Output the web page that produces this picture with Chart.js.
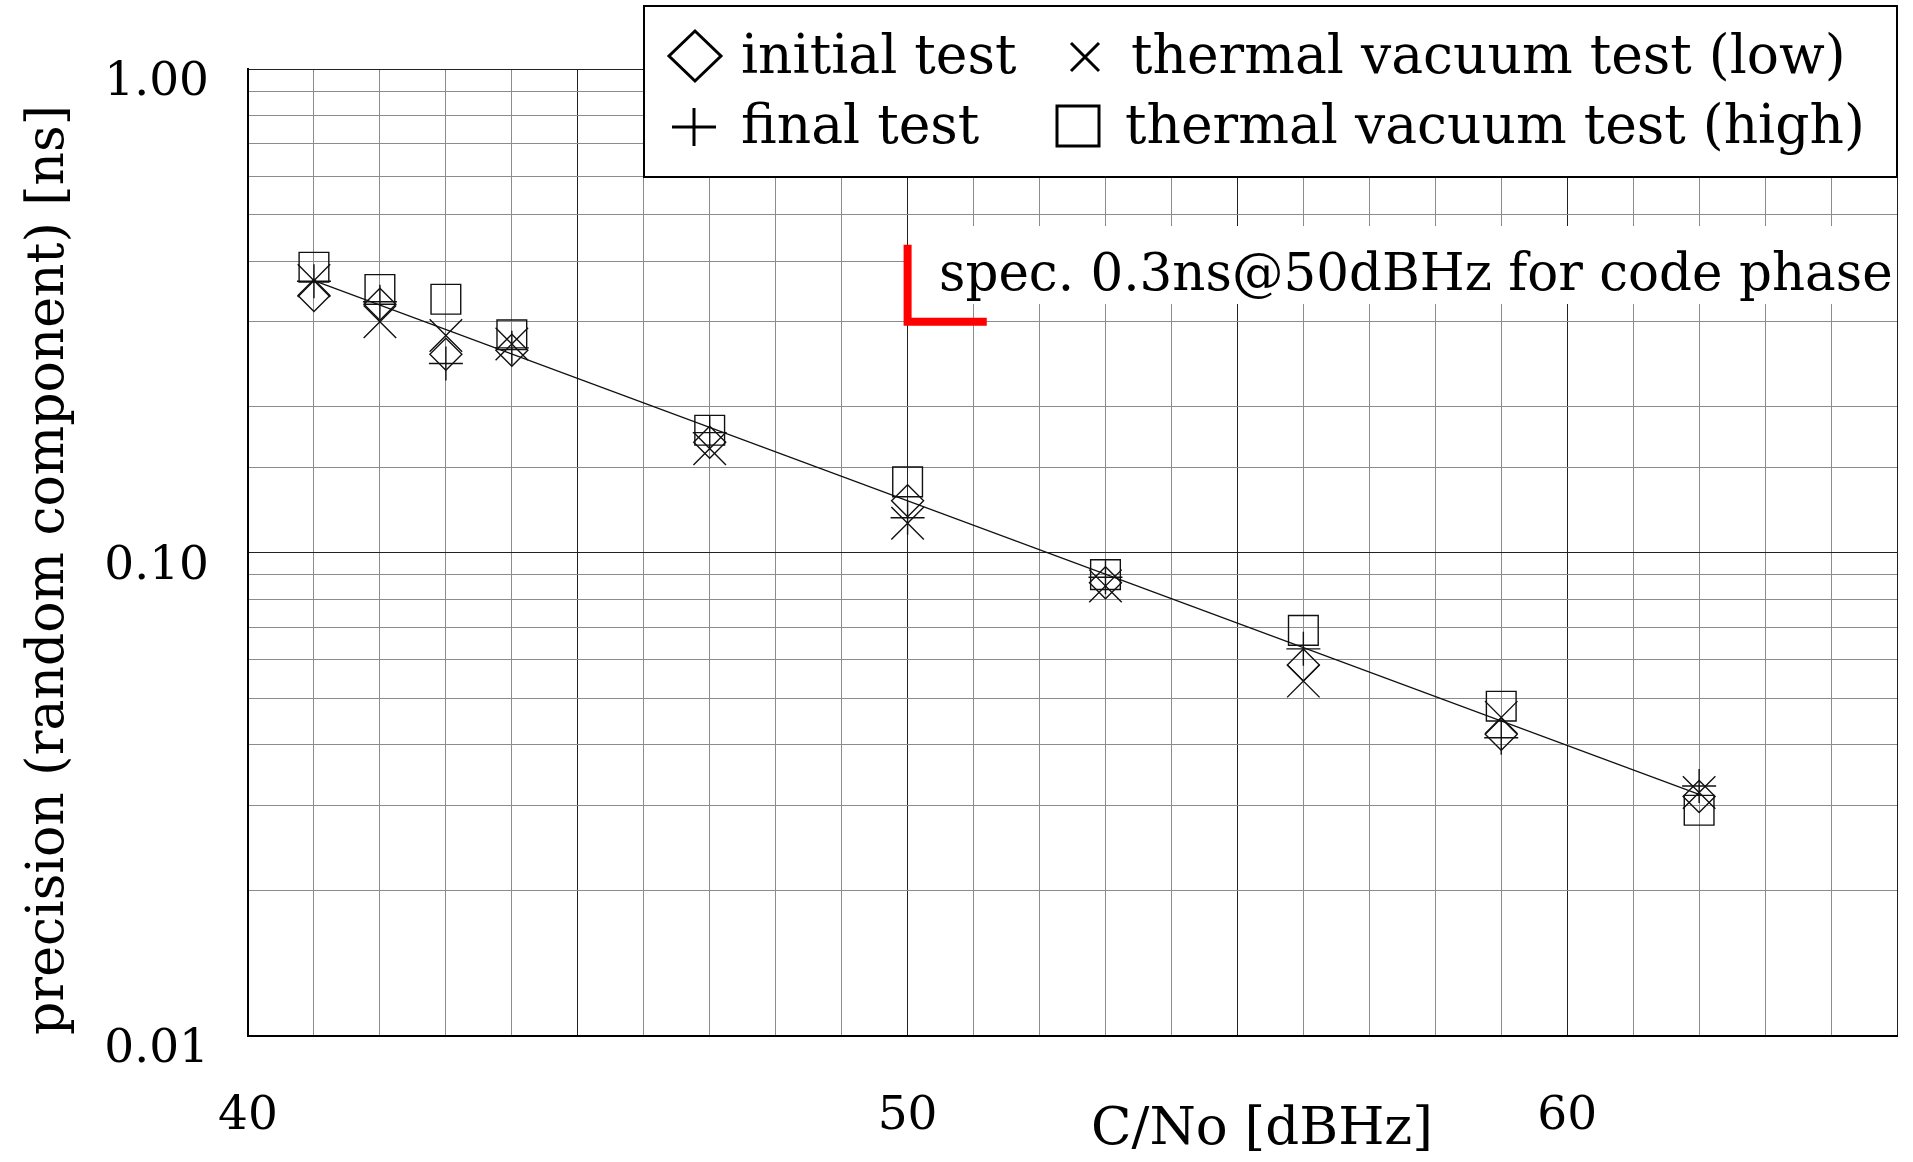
<!DOCTYPE html>
<html>
<head>
<meta charset="utf-8">
<script src="https://cdn.jsdelivr.net/npm/chart.js@4.4.1/dist/chart.umd.min.js"></script>
<style>
  html, body { margin: 0; padding: 0; background: #fff; overflow: hidden; }
  #wrap { width: 1913px; height: 1162px; }
  canvas { display: block; }
</style>
</head>
<body>
<div id="wrap"><canvas id="chart" width="1913" height="1162"></canvas></div>
<script>
// C/No [dBHz] and measured precision [ns]
const cnoValues = [41, 42, 43, 44, 47, 50, 53, 56, 59, 62];
const initialTest = [0.340, 0.326, 0.257, 0.262, 0.169, 0.128, 0.0866, 0.0585, 0.0421, 0.0313];
const finalTest = [0.364, 0.330, 0.246, 0.265, 0.177, 0.118, 0.0889, 0.0632, 0.0414, 0.0329];
const vacuumLow = [0.365, 0.300, 0.281, 0.270, 0.164, 0.115, 0.0853, 0.0542, 0.0456, 0.0319];
const vacuumHigh = [0.389, 0.350, 0.334, 0.282, 0.179, 0.140, 0.0900, 0.0690, 0.0481, 0.0293];
const seriesNames = ['initial test', 'thermal vacuum test (low)', 'final test', 'thermal vacuum test (high)'];

// fitted line and spec marker
const fitX = [41, 62];
const fitY = [0.365, 0.0316];
const specX = [50, 50, 51.2];
const specY = [0.433, 0.3, 0.3];
const specLabel = 'spec. 0.3ns@50dBHz for code phase';

const xTickLabels = [40, 50, 60];
const yTickLabels = [0.01, 0.1, 1];
const xTitle = 'C/No [dBHz]';
const yTitle = 'precision (random component) [ns]';

const FONT = '"DejaVu Serif", serif';
const INK = '#111';

function pts(xs, ys) {
  return xs.map((x, i) => ({ x: x, y: ys[i] }));
}

function markerSet(label, ys, style, r) {
  return {
    label: label,
    data: pts(cnoValues, ys),
    pointStyle: style,
    pointRadius: r,
    pointHoverRadius: r,
    pointBorderColor: INK,
    pointBackgroundColor: 'rgba(0,0,0,0)',
    pointBorderWidth: 1.4,
    showLine: false
  };
}

function drawMarker(c, style, x, y, rx, ry, lw) {
  c.save();
  c.strokeStyle = '#000';
  c.lineWidth = lw;
  c.beginPath();
  if (style === 'rectRot') {
    c.moveTo(x, y - ry); c.lineTo(x + rx, y); c.lineTo(x, y + ry); c.lineTo(x - rx, y); c.closePath();
  } else if (style === 'crossRot') {
    c.moveTo(x - rx, y - ry); c.lineTo(x + rx, y + ry);
    c.moveTo(x + rx, y - ry); c.lineTo(x - rx, y + ry);
  } else if (style === 'cross') {
    c.moveTo(x - rx, y); c.lineTo(x + rx, y);
    c.moveTo(x, y - ry); c.lineTo(x, y + ry);
  } else {
    c.rect(x - rx, y - ry, 2 * rx, 2 * ry);
  }
  c.stroke();
  c.restore();
}

const annotations = {
  id: 'annotations',
  beforeDatasetsDraw(chart) {
    const c = chart.ctx;
    c.save();
    c.fillStyle = '#fff';
    c.fillRect(910, 226, chart.chartArea.right - 910, 78);
    c.fillStyle = '#000';
    c.font = '51.5px ' + FONT;
    c.textAlign = 'left';
    c.textBaseline = 'alphabetic';
    c.fillText(specLabel, 939, 290);
    c.restore();
  },
  afterDraw(chart) {
    const c = chart.ctx;
    c.save();
    // legend box
    c.fillStyle = '#fff';
    c.fillRect(644, 6, 1253, 171);
    c.strokeStyle = '#000';
    c.lineWidth = 2;
    c.strokeRect(644, 6, 1253, 171);
    drawMarker(c, 'rectRot', 695, 56, 26, 25, 3);
    drawMarker(c, 'crossRot', 1085, 57, 14, 14, 3);
    drawMarker(c, 'cross', 694, 127, 22, 19, 3);
    drawMarker(c, 'rect', 1078, 126, 21, 20, 3);
    c.fillStyle = '#000';
    c.font = '53.5px ' + FONT;
    c.textAlign = 'left';
    c.textBaseline = 'middle';
    c.fillText(seriesNames[0], 741, 59);
    c.fillText(seriesNames[1], 1131, 59);
    c.fillText(seriesNames[2], 741, 129);
    c.fillText(seriesNames[3], 1125, 129);
    // axis titles
    c.font = '53px ' + FONT;
    c.textAlign = 'center';
    c.fillText(xTitle, 1262, 1130);
    c.translate(49, 570);
    c.rotate(-Math.PI / 2);
    c.font = '52px ' + FONT;
    c.fillText(yTitle, 0, 0);
    c.restore();
  }
};

const ctx = document.getElementById('chart');
new Chart(ctx, {
  type: 'scatter',
  data: {
    datasets: [
      {
        label: 'fit',
        data: pts(fitX, fitY),
        showLine: true,
        borderColor: INK,
        borderWidth: 1.2,
        pointRadius: 0
      },
      {
        label: 'spec',
        data: pts(specX, specY),
        showLine: true,
        borderColor: '#ff0000',
        borderWidth: 8,
        borderJoinStyle: 'miter',
        borderCapStyle: 'butt',
        pointRadius: 0
      },
      markerSet(seriesNames[3], vacuumHigh, 'rect', 21),
      markerSet(seriesNames[0], initialTest, 'rectRot', 16),
      markerSet(seriesNames[1], vacuumLow, 'crossRot', 23),
      markerSet(seriesNames[2], finalTest, 'cross', 17)
    ]
  },
  options: {
    responsive: false,
    animation: false,
    layout: {
      autoPadding: false,
      padding: { top: 69, right: 16, left: 0, bottom: 0 }
    },
    plugins: {
      legend: { display: false },
      tooltip: { enabled: false }
    },
    scales: {
      x: {
        type: 'linear',
        min: 40,
        max: 65,
        afterFit(scale) {
          scale.height = 126;
          scale.paddingLeft = 0;
          scale.paddingRight = 0;
        },
        border: { color: '#000', width: 2 },
        grid: {
          drawTicks: false,
          lineWidth: 1,
          color: (c) => (c.tick && c.tick.value % 5 === 0 ? '#222' : '#8c8c8c')
        },
        ticks: {
          stepSize: 1,
          autoSkip: false,
          maxRotation: 0,
          padding: 53,
          color: '#000',
          font: { family: FONT, size: 47 },
          callback: (v) => (xTickLabels.includes(v) ? String(v) : '')
        }
      },
      y: {
        type: 'logarithmic',
        min: 0.01,
        max: 1,
        afterFit(scale) {
          scale.width = 248;
          scale.paddingTop = 0;
          scale.paddingBottom = 0;
        },
        border: { color: '#000', width: 2 },
        grid: {
          drawTicks: false,
          lineWidth: 1,
          color: (c) => {
            if (!c.tick) return '#8c8c8c';
            const l = Math.log10(c.tick.value);
            return Math.abs(l - Math.round(l)) < 1e-6 ? '#222' : '#8c8c8c';
          }
        },
        ticks: {
          autoSkip: false,
          padding: 39,
          labelOffset: 14,
          color: '#000',
          font: { family: FONT, size: 47 },
          callback: (v) => {
            const t = yTickLabels.find((k) => Math.abs(k - v) < 1e-9);
            return t === undefined ? '' : t.toFixed(2);
          }
        }
      }
    }
  },
  plugins: [annotations]
});
</script>
</body>
</html>
